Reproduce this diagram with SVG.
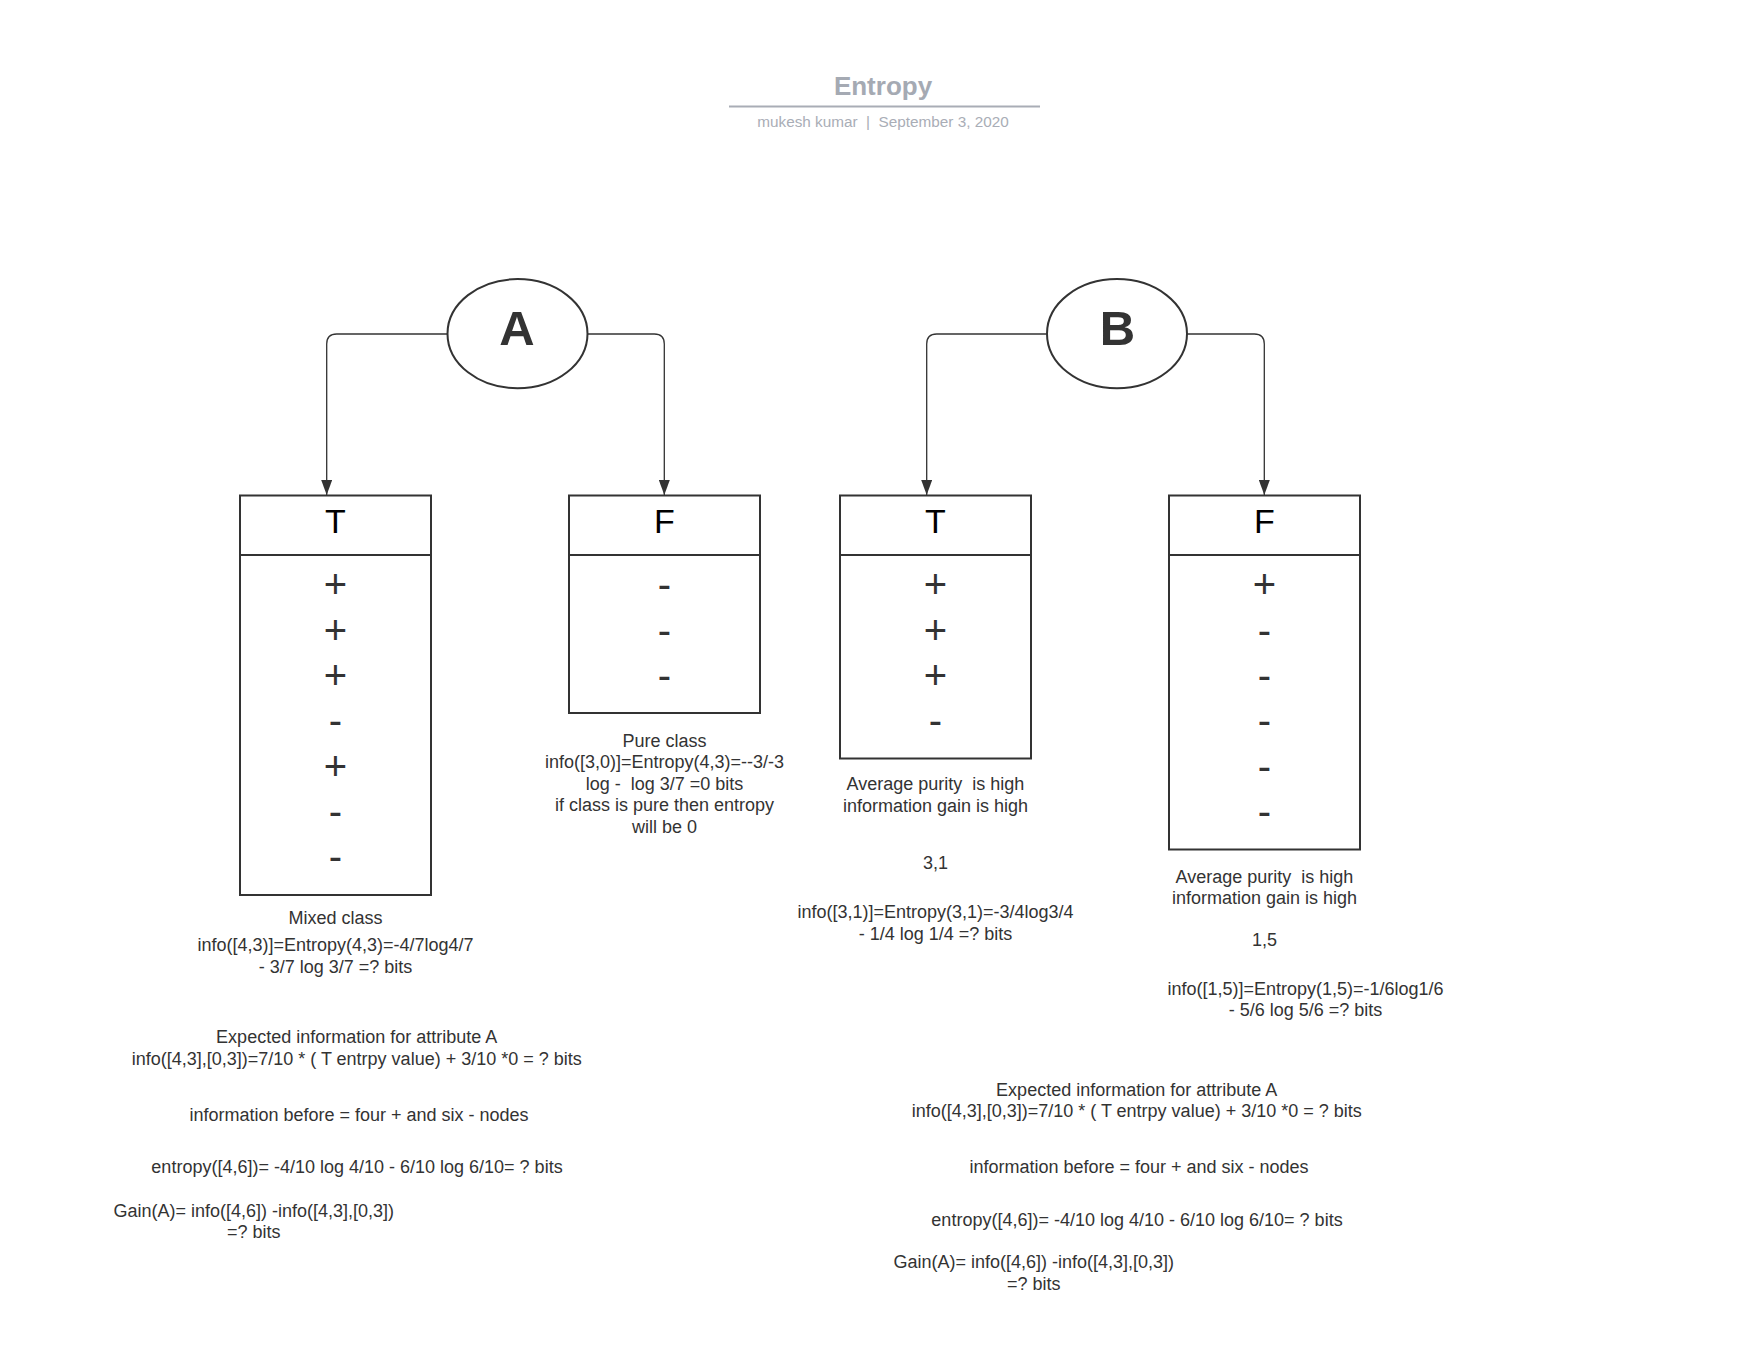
<svg xmlns="http://www.w3.org/2000/svg" width="1760" height="1360" viewBox="0 0 1760 1360">
<defs>
<style>
text{font-family:"Liberation Sans",Arial,sans-serif;white-space:pre}
.t{font-size:18px;fill:#333;text-anchor:middle}
.hd{font-size:34px;fill:#000;text-anchor:middle}
.sg{font-size:40px;fill:#333;text-anchor:middle}
.lt{font-size:49px;font-weight:bold;fill:#333;text-anchor:middle}
.box{fill:#fff;stroke:#333;stroke-width:2}
.ell{fill:#fff;stroke:#333;stroke-width:2}
.con{fill:none;stroke:#333;stroke-width:1.3}
</style>
<marker id="arr" markerUnits="userSpaceOnUse" markerWidth="15" markerHeight="11" viewBox="0 0 15 11" refX="15" refY="5.5" orient="auto">
<path d="M0,0 L15,5.5 L0,11 Z" fill="#333"/>
</marker>
</defs>
<rect width="1760" height="1360" fill="#fff"/>

<g id="title">
<text x="883" y="95" style="font-size:26px;font-weight:bold;fill:#a5aab3;text-anchor:middle">Entropy</text>
<line x1="729" y1="106.5" x2="1040" y2="106.5" stroke="#a9adb6" stroke-width="2"/>
<text x="883" y="127" style="font-size:15.3px;fill:#a9adb6;text-anchor:middle">mukesh kumar  |  September 3, 2020</text>
</g>

<g id="connectors">
<path class="con" d="M447.5 334 H336.7 Q326.7 334 326.7 344 V495" marker-end="url(#arr)"/>
<path class="con" d="M587.5 334 H654.3 Q664.3 334 664.3 344 V495" marker-end="url(#arr)"/>
<path class="con" d="M1047.3 334 H936.7 Q926.7 334 926.7 344 V495" marker-end="url(#arr)"/>
<path class="con" d="M1186.7 334 H1254.3 Q1264.3 334 1264.3 344 V495" marker-end="url(#arr)"/>
</g>

<g id="node-A">
<ellipse class="ell" cx="517.5" cy="333.7" rx="70" ry="54.6"/>
<text class="lt" x="517" y="345">A</text>
</g>
<g id="node-B">
<ellipse class="ell" cx="1117" cy="333.7" rx="70" ry="54.6"/>
<text class="lt" x="1117.5" y="345">B</text>
</g>

<g id="node-A-T">
<rect class="box" x="240" y="495.5" width="191" height="399.5"/>
<line x1="240" y1="555" x2="431" y2="555" stroke="#333" stroke-width="2"/>
<text class="hd" x="335.5" y="533">T</text>
<text class="sg" x="335.5" y="598.4">+</text>
<text class="sg" x="335.5" y="643.7">+</text>
<text class="sg" x="335.5" y="689">+</text>
<text class="sg" x="335.5" y="734.3">-</text>
<text class="sg" x="335.5" y="779.6">+</text>
<text class="sg" x="335.5" y="824.9">-</text>
<text class="sg" x="335.5" y="870.2">-</text>
</g>

<g id="node-A-F">
<rect class="box" x="569" y="495.5" width="191" height="217.5"/>
<line x1="569" y1="555" x2="760" y2="555" stroke="#333" stroke-width="2"/>
<text class="hd" x="664.5" y="533">F</text>
<text class="sg" x="664.5" y="598.4">-</text>
<text class="sg" x="664.5" y="643.7">-</text>
<text class="sg" x="664.5" y="689">-</text>
</g>

<g id="node-B-T">
<rect class="box" x="840" y="495.5" width="191" height="263"/>
<line x1="840" y1="555" x2="1031" y2="555" stroke="#333" stroke-width="2"/>
<text class="hd" x="935.5" y="533">T</text>
<text class="sg" x="935.5" y="598.4">+</text>
<text class="sg" x="935.5" y="643.7">+</text>
<text class="sg" x="935.5" y="689">+</text>
<text class="sg" x="935.5" y="734.3">-</text>
</g>

<g id="node-B-F">
<rect class="box" x="1169" y="495.5" width="191" height="354"/>
<line x1="1169" y1="555" x2="1360" y2="555" stroke="#333" stroke-width="2"/>
<text class="hd" x="1264.5" y="533">F</text>
<text class="sg" x="1264.5" y="598.4">+</text>
<text class="sg" x="1264.5" y="643.7">-</text>
<text class="sg" x="1264.5" y="689">-</text>
<text class="sg" x="1264.5" y="734.3">-</text>
<text class="sg" x="1264.5" y="779.6">-</text>
<text class="sg" x="1264.5" y="824.9">-</text>
</g>

<g id="label-A-T">
<text class="t" x="335.5" y="923.5">Mixed class</text>
<text class="t" x="335.5" y="951">info([4,3)]=Entropy(4,3)=-4/7log4/7</text>
<text class="t" x="335.5" y="972.5">- 3/7 log 3/7 =? bits</text>
</g>

<g id="label-A-F">
<text class="t" x="664.5" y="746.5">Pure class</text>
<text class="t" x="664.5" y="768">info([3,0)]=Entropy(4,3)=--3/-3</text>
<text class="t" x="664.5" y="789.5">log -  log 3/7 =0 bits</text>
<text class="t" x="664.5" y="811">if class is pure then entropy</text>
<text class="t" x="664.5" y="832.5">will be 0</text>
</g>

<g id="label-B-T">
<text class="t" x="935.5" y="789.8">Average purity  is high</text>
<text class="t" x="935.5" y="811.5">information gain is high</text>
<text class="t" x="935.5" y="868.8">3,1</text>
<text class="t" x="935.5" y="918.2">info([3,1)]=Entropy(3,1)=-3/4log3/4</text>
<text class="t" x="935.5" y="939.8">- 1/4 log 1/4 =? bits</text>
</g>

<g id="label-B-F">
<text class="t" x="1264.5" y="882.5">Average purity  is high</text>
<text class="t" x="1264.5" y="904">information gain is high</text>
<text class="t" x="1264.5" y="945.8">1,5</text>
<text class="t" x="1305.5" y="994.8">info([1,5)]=Entropy(1,5)=-1/6log1/6</text>
<text class="t" x="1305.5" y="1016">- 5/6 log 5/6 =? bits</text>
</g>

<g id="calc-A">
<text class="t" x="356.7" y="1043.2">Expected information for attribute A</text>
<text class="t" x="356.7" y="1064.8">info([4,3],[0,3])=7/10 * ( T entrpy value) + 3/10 *0 = ? bits</text>
<text class="t" x="359" y="1120.8">information before = four + and six - nodes</text>
<text class="t" x="357" y="1173.2">entropy([4,6])= -4/10 log 4/10 - 6/10 log 6/10= ? bits</text>
<text class="t" x="253.8" y="1216.5">Gain(A)= info([4,6]) -info([4,3],[0,3])</text>
<text class="t" x="253.8" y="1237.8">=? bits</text>
</g>

<g id="calc-B">
<text class="t" x="1136.7" y="1095.5">Expected information for attribute A</text>
<text class="t" x="1136.7" y="1117.2">info([4,3],[0,3])=7/10 * ( T entrpy value) + 3/10 *0 = ? bits</text>
<text class="t" x="1139" y="1173">information before = four + and six - nodes</text>
<text class="t" x="1137" y="1226.3">entropy([4,6])= -4/10 log 4/10 - 6/10 log 6/10= ? bits</text>
<text class="t" x="1033.7" y="1268.2">Gain(A)= info([4,6]) -info([4,3],[0,3])</text>
<text class="t" x="1033.7" y="1289.5">=? bits</text>
</g>
</svg>
